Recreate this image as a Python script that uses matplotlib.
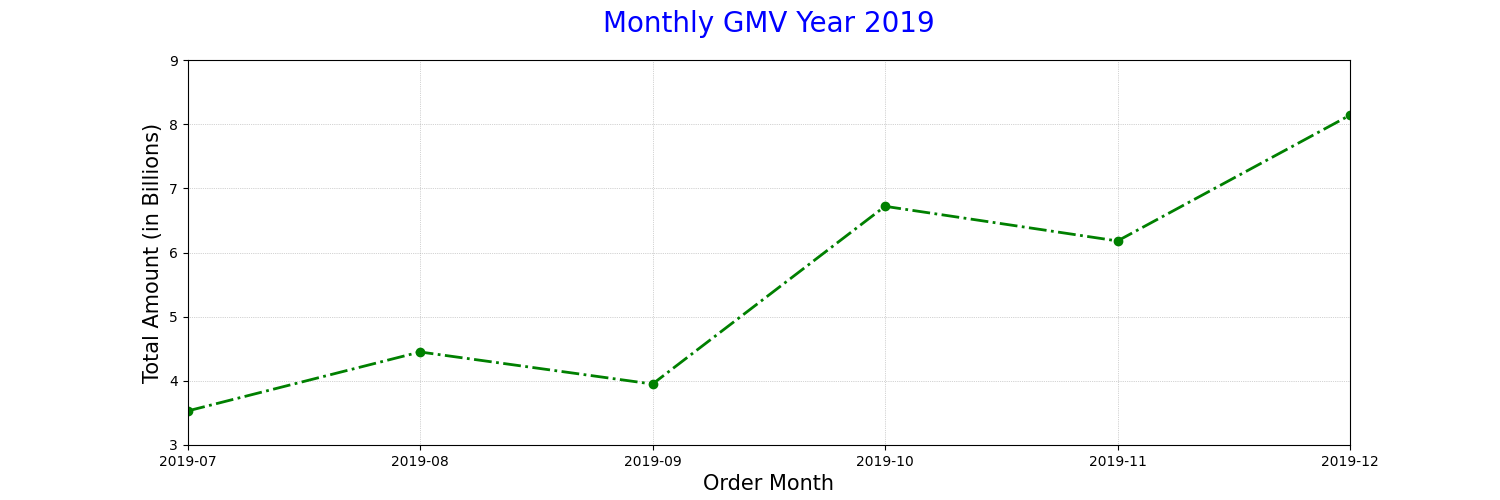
import matplotlib.pyplot as plt

# monthly GMV, in billions
months = ['2019-07', '2019-08', '2019-09', '2019-10', '2019-11', '2019-12']
gmv = [3.53, 4.45, 3.95, 6.72, 6.18, 8.14]

fig = plt.figure(figsize=(15, 5), dpi=100)
ax = fig.add_subplot(111)
ax.plot(months, gmv, color='green', marker='o', linestyle='-.', linewidth=2)
ax.set_title('Monthly GMV Year 2019', loc='center', pad=20, fontsize=20, color='blue')
ax.set_xlabel('Order Month', fontsize=15)
ax.set_ylabel('Total Amount (in Billions)', fontsize=15)
ax.set_xlim(0, len(months) - 1)
ax.set_ylim(3, 9)
ax.grid(color='darkgray', linestyle=':', linewidth=0.5)
fig.savefig('out.png')
